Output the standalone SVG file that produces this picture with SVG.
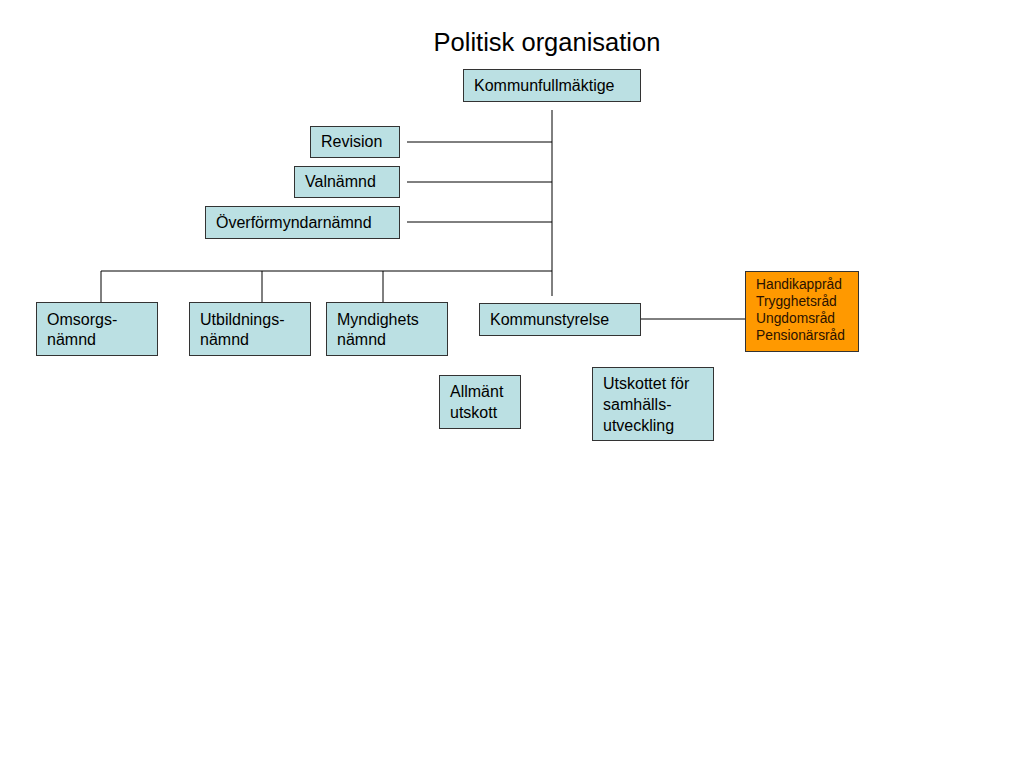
<svg xmlns="http://www.w3.org/2000/svg" width="1024" height="768" viewBox="0 0 1024 768">
<style>
text{font-family:"Liberation Sans",Arial,sans-serif;fill:#000}
.b{fill:#BBE0E3;stroke:#333;stroke-width:1}
.o{fill:#FF9900;stroke:#333;stroke-width:1}
.t{font-size:16px}
.s{font-size:13.8px;fill:#2a1200}
.c line{stroke:#000;stroke-width:1}
</style>
<rect width="1024" height="768" fill="#fff"/>
<text x="547" y="51" font-size="25.5" text-anchor="middle">Politisk organisation</text>
<g class="c">
<line x1="552" y1="110" x2="552" y2="296"/>
<line x1="407" y1="142" x2="552" y2="142"/>
<line x1="407" y1="182" x2="552" y2="182"/>
<line x1="407" y1="222" x2="552" y2="222"/>
<line x1="101" y1="271" x2="552" y2="271"/>
<line x1="101" y1="271" x2="101" y2="302"/>
<line x1="262" y1="271" x2="262" y2="302"/>
<line x1="383" y1="271" x2="383" y2="302"/>
<line x1="641" y1="319" x2="745" y2="319"/>
</g>
<g id="kommunfullmaktige"><rect class="b" x="463.5" y="69.5" width="177" height="32"/><text class="t" x="474" y="91">Kommunfullmäktige</text></g>
<g id="revision"><rect class="b" x="310.5" y="126.5" width="89" height="31"/><text class="t" x="321" y="147">Revision</text></g>
<g id="valnamnd"><rect class="b" x="294.5" y="166.5" width="105" height="31"/><text class="t" x="305" y="187">Valnämnd</text></g>
<g id="overformyndarnamnd"><rect class="b" x="205.5" y="206.5" width="194" height="32"/><text class="t" x="216" y="228">Överförmyndarnämnd</text></g>
<g id="omsorgsnamnd"><rect class="b" x="36.5" y="302.5" width="121" height="53"/><text class="t" x="47" y="325">Omsorgs-</text><text class="t" x="47" y="345">nämnd</text></g>
<g id="utbildningsnamnd"><rect class="b" x="189.5" y="302.5" width="121" height="53"/><text class="t" x="200" y="325">Utbildnings-</text><text class="t" x="200" y="345">nämnd</text></g>
<g id="myndighetsnamnd"><rect class="b" x="326.5" y="302.5" width="121" height="53"/><text class="t" x="337" y="325">Myndighets</text><text class="t" x="337" y="345">nämnd</text></g>
<g id="kommunstyrelse"><rect class="b" x="479.5" y="303.5" width="161" height="32"/><text class="t" x="490" y="325">Kommunstyrelse</text></g>
<g id="rad"><rect class="o" x="745.5" y="271.5" width="113" height="80"/><text class="s" x="756" y="289">Handikappråd</text><text class="s" x="756" y="306">Trygghetsråd</text><text class="s" x="756" y="323">Ungdomsråd</text><text class="s" x="756" y="340">Pensionärsråd</text></g>
<g id="allmant"><rect class="b" x="439.5" y="375.5" width="81" height="53"/><text class="t" x="450" y="397">Allmänt</text><text class="t" x="450" y="418">utskott</text></g>
<g id="utskottet"><rect class="b" x="592.5" y="367.5" width="121" height="73"/><text class="t" x="603" y="389">Utskottet för</text><text class="t" x="603" y="410">samhälls-</text><text class="t" x="603" y="431">utveckling</text></g>
</svg>
